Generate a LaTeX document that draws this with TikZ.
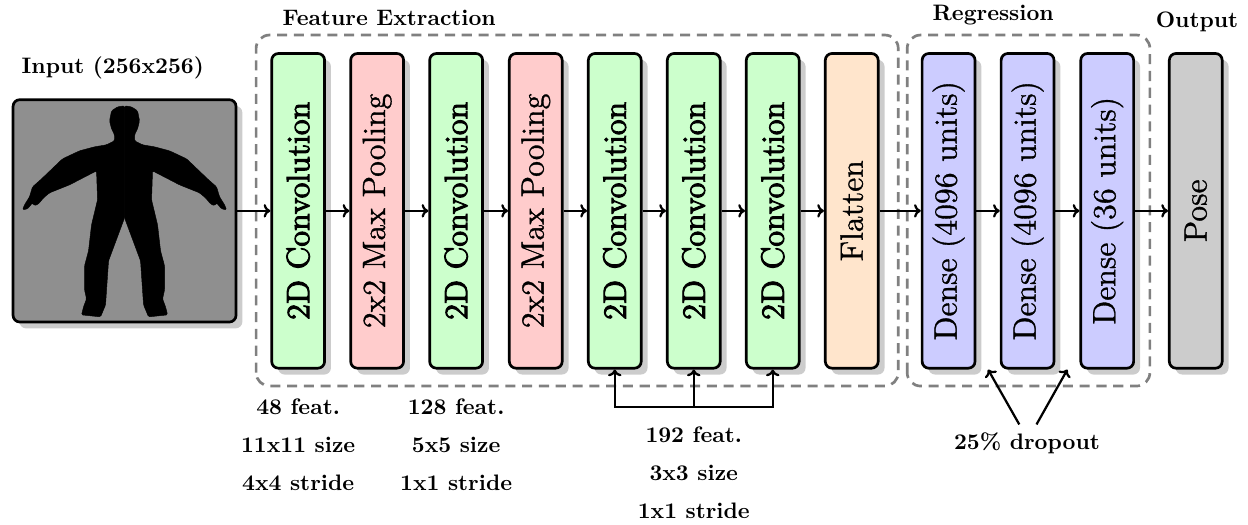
\documentclass[tikz,border=0pt]{standalone}
\usepackage{fontspec}
\usetikzlibrary{positioning,calc,shadows,arrows.meta}
\newfontface\heavyface{lmroman12-regular.otf}[FakeBold=3]
\newfontface\semiface{lmroman12-regular.otf}[FakeBold=1]

\tikzset{
  layer/.style={draw, line width=1.2pt, rounded corners=3pt, inner sep=0pt,
    minimum width=0.83cm, minimum height=4.94cm,
    drop shadow={shadow xshift=0.1cm, shadow yshift=-0.1cm, fill=black!20, opacity=1}},
  convbox/.style={layer, fill=green!20},
  poolbox/.style={layer, fill=red!20},
  flatbox/.style={layer, fill=orange!20},
  densebox/.style={layer, fill=blue!20},
  outbox/.style={layer, fill=black!20},
  group/.style={draw=black!50, line width=1.2pt, rounded corners=6pt, dash pattern=on 4.5pt off 3pt},
  link/.style={-{To[length=3pt,width=6pt]}, line width=1pt},
  heading/.style={font=\bfseries},
  note/.style={font=\bfseries, align=center}
}

\begin{document}
\begin{tikzpicture}
\useasboundingbox (0,0) rectangle (19.59,8.24);

% dashed groups
\draw[group] (4.02,2.18) rectangle (14.10,7.69);
\draw[group] (14.24,2.18) rectangle (18.05,7.69);
\node[heading] (fe) at (6.11,7.96) {Feature Extraction};
\node[heading] (rg) at (15.59,8.01) {Regression};
\node[heading] (op) at (18.79,7.90) {Output};

% input image
\node[heading] (inlabel) at (1.77,7.17) {Input (256x256)};
\node[draw, line width=1.2pt, rounded corners=3pt, fill=black!44,
  minimum width=3.5cm, minimum height=3.49cm,
  drop shadow={shadow xshift=0.1cm, shadow yshift=-0.1cm, fill=black!20, opacity=1}]
  (input) at (1.955,4.93) {};
\begin{scope}[shift={(input.center)}, x=0.0157cm, y=-0.0157cm]
  \foreach \side in {1,-1}
    \filldraw[xscale=\side, line width=0.2pt, rounded corners=0.6pt]
      (0,7) -- (16,50) -- (19,94) -- (24,106) -- (43,104) -- (41,96) -- (38,88)
      -- (40,79) -- (40,55) -- (36,40) -- (33,14) -- (27,-11) -- (28,-40)
      -- (55,-26) -- (75,-18) -- (81,-13) -- (86,-7) -- (90,-5) -- (92,-8)
      -- (97,-2) -- (102,-1) -- (100,-6) -- (95,-14) -- (92,-24) -- (84,-31)
      -- (62,-52) -- (45,-60) -- (30,-64) -- (18,-66) -- (10,-70) -- (10,-76)
      -- (13,-82) -- (15,-90) -- (13,-100) -- (7,-104) -- (0,-105) -- cycle;
\end{scope}

% layers
\node[convbox] (conv1) at (4.68,4.93) {\rotatebox{90}{\heavyface\Large 2D Convolution}};
\node[poolbox] (pool1) at (5.92,4.93) {\rotatebox{90}{\semiface\Large 2x2 Max Pooling}};
\node[convbox] (conv2) at (7.16,4.93) {\rotatebox{90}{\heavyface\Large 2D Convolution}};
\node[poolbox] (pool2) at (8.41,4.93) {\rotatebox{90}{\semiface\Large 2x2 Max Pooling}};
\node[convbox] (conv3) at (9.65,4.93) {\rotatebox{90}{\heavyface\Large 2D Convolution}};
\node[convbox] (conv4) at (10.89,4.93) {\rotatebox{90}{\heavyface\Large 2D Convolution}};
\node[convbox] (conv5) at (12.13,4.93) {\rotatebox{90}{\heavyface\Large 2D Convolution}};
\node[flatbox] (flat) at (13.37,4.93) {\rotatebox{90}{\semiface\Large Flatten}};
\node[densebox] (dense1) at (14.89,4.93) {\rotatebox{90}{\semiface\Large Dense (4096 units)}};
\node[densebox] (dense2) at (16.13,4.93) {\rotatebox{90}{\semiface\Large Dense (4096 units)}};
\node[densebox] (dense3) at (17.38,4.93) {\rotatebox{90}{\semiface\Large Dense (36 units)}};
\node[outbox] (pose) at (18.77,4.93) {\rotatebox{90}{\semiface\Large Pose}};

\foreach \a/\b in {input/conv1, conv1/pool1, pool1/conv2, conv2/pool2, pool2/conv3,
  conv3/conv4, conv4/conv5, conv5/flat, flat/dense1, dense1/dense2, dense2/dense3, dense3/pose}
  \draw[link] (\a) -- (\b);

% layer parameters
\node[note] (p1) at (4.68,1.256) {48 feat.\\[5pt]11x11 size\\[5pt]4x4 stride};
\node[note] (p2) at (7.16,1.256) {128 feat.\\[5pt]5x5 size\\[5pt]1x1 stride};
\node[note] (p3) at (10.89,0.816) {192 feat.\\[5pt]3x3 size\\[5pt]1x1 stride};
\coordinate (fork) at (10.89,1.85);
\draw[link] (fork) -| (conv3.south);
\draw[link] (fork) -- (conv4.south);
\draw[link] (fork) -| (conv5.south);

% dropout
\node[heading] (drop) at (16.12,1.287) {25\% dropout};
\coordinate (gap1) at ($(dense1.south east)!.5!(dense2.south west)$);
\coordinate (gap2) at ($(dense2.south east)!.5!(dense3.south west)$);
\draw[link] ([xshift=-0.12cm]drop.north) -- (gap1);
\draw[link] ([xshift=0.15cm]drop.north) -- (gap2);
\end{tikzpicture}
\end{document}
